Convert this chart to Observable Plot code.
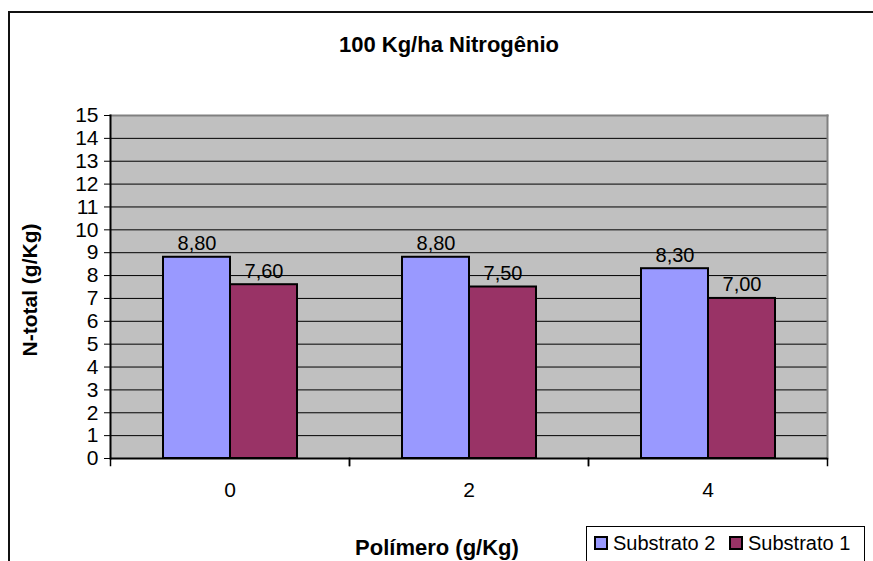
<!DOCTYPE html>
<html><head><meta charset="utf-8">
<script src="https://cdn.jsdelivr.net/npm/d3@7"></script>
<script src="https://cdn.jsdelivr.net/npm/@observablehq/plot@0.6"></script>
<style>
body{margin:0;background:#fff;font-family:"Liberation Sans",Arial,sans-serif;color:#000;}
#wrap{position:relative;width:873px;height:561px;overflow:hidden;}
#border{position:absolute;left:8px;top:11px;width:1000px;height:1000px;border:2px solid #111;box-sizing:border-box;}
#chart{position:absolute;left:0;top:0;}
#title{position:absolute;left:0;width:898px;top:33px;text-align:center;font-weight:bold;font-size:22px;line-height:24px;}
#ylabel{position:absolute;left:30px;top:290px;transform:translate(-50%,-50%) rotate(-90deg);font-weight:bold;font-size:21px;line-height:24px;white-space:nowrap;}
#xlabel{position:absolute;left:437px;top:548px;transform:translate(-50%,-50%);font-weight:bold;font-size:22px;line-height:24px;white-space:nowrap;}
#legend{position:absolute;left:586px;top:526px;width:279px;height:60px;border:1px solid #000;box-sizing:border-box;background:#fff;font-size:20px;}
.item{position:absolute;top:4px;display:flex;align-items:center;line-height:24px;}
.sw{width:10px;height:10px;border:2px solid #000;margin-right:5px;}
</style></head><body>
<div id="wrap">
 <div id="border"></div>
 <div id="chart"></div>
 <div id="title">100 Kg/ha Nitrogênio</div>
 <div id="ylabel">N-total (g/Kg)</div>
 <div id="xlabel">Polímero (g/Kg)</div>
 <div id="legend"></div>
</div>
<script>
const categories = ["0", "2", "4"];
const seriesNames = ["Substrato 2", "Substrato 1"];
const substrato2 = [8.8, 8.8, 8.3];
const substrato1 = [7.6, 7.5, 7.0];
const yTicks = [0,1,2,3,4,5,6,7,8,9,10,11,12,13,14,15];
const gridTicks = [1,2,3,4,5,6,7,8,9,10,11,12,13,14];
const colors = ["#9999ff", "#993366"];

const data = categories.flatMap((c, i) => [
  {cat: c, series: seriesNames[0], value: substrato2[i]},
  {cat: c, series: seriesNames[1], value: substrato1[i]}
]);
const fmt = v => v.toFixed(2).replace(".", ",");

const H = 561, MT = 115, MB = 103;
const plotH = H - MT - MB;

const chart = Plot.plot({
  width: 873, height: H,
  marginLeft: 109, marginRight: 45, marginTop: MT, marginBottom: MB,
  style: {fontFamily: "'Liberation Sans', Arial, sans-serif", fontSize: "20px", color: "black", background: "transparent"},
  fx: {domain: categories, padding: 0, label: null},
  x: {domain: seriesNames, paddingInner: 0, paddingOuter: 0.765, axis: null, label: null},
  y: {domain: [0, 15], label: null},
  color: {domain: seriesNames, range: colors},
  marks: [
    Plot.frame({fill: "#c0c0c0", facet: "super"}),
    Plot.gridY(gridTicks, {stroke: "black", strokeOpacity: 1, strokeWidth: 1}),
    Plot.frame({anchor: "top", stroke: "#808080", strokeWidth: 2, facet: "super"}),
    Plot.frame({anchor: "right", stroke: "#808080", strokeWidth: 2, facet: "super"}),
    Plot.barY(data, {fx: "cat", x: "series", y: "value", fill: "series", stroke: "black", strokeWidth: 2, inset: 0}),
    Plot.text(data, {fx: "cat", x: "series", y: "value", text: d => fmt(d.value), lineAnchor: "bottom", dy: -7, fontSize: 20, fill: "black"}),
    Plot.ruleY([0], {stroke: "black", strokeWidth: 2}),
    Plot.frame({anchor: "left", stroke: "black", strokeWidth: 2, facet: "super"}),
    Plot.frame({anchor: "left", stroke: "black", strokeWidth: 1.5, insetTop: plotH, insetBottom: -7}),
    Plot.frame({anchor: "right", stroke: "black", strokeWidth: 1.5, insetTop: plotH, insetBottom: -7}),
    Plot.axisY(yTicks, {anchor: "left", tickSize: 6, tickPadding: 6, fontSize: 21, label: null, stroke: "black"}),
    Plot.axisFx({anchor: "bottom", tickSize: 0, tickPadding: 24, fontSize: 21, label: null})
  ]
});
document.getElementById("chart").appendChild(chart);

const legend = document.getElementById("legend");
const offsets = [7, 142];
seriesNames.forEach((s, i) => {
  const it = document.createElement("div");
  it.className = "item";
  it.style.left = offsets[i] + "px";
  const sw = document.createElement("div");
  sw.className = "sw";
  sw.style.background = colors[i];
  const t = document.createElement("span");
  t.textContent = s;
  it.appendChild(sw); it.appendChild(t);
  legend.appendChild(it);
});
</script>
</body></html>
